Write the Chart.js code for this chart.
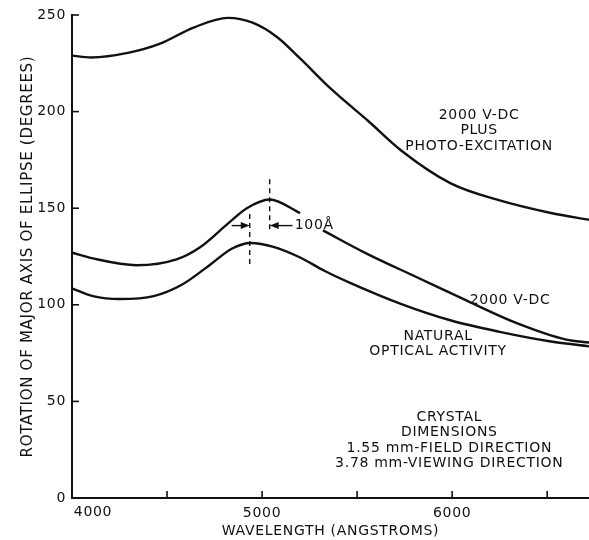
<!DOCTYPE html>
<html>
<head>
<meta charset="utf-8">
<script src="https://cdn.jsdelivr.net/npm/chart.js@4.4.1/dist/chart.umd.min.js"></script>
<style>
  html, body { margin: 0; padding: 0; background: #fff; }
  #wrap { width: 589px; height: 540px; }
</style>
</head>
<body>
<div id="wrap"><canvas id="c"></canvas></div>
<script>
// wavelength (angstroms) / rotation (degrees)
const photoWl  = [4000, 4100, 4300, 4460, 4640, 4820, 4950, 5080, 5200, 5360, 5560, 5730, 5990, 6250, 6520, 6720]
const photoDeg = [229, 228, 230.5, 235, 243.5, 248.5, 246, 238.5, 227.5, 212, 195, 180, 163, 154, 147.5, 144]

// gap (null) where the curve is broken for the "100Å" label
const dcWl  = [4000, 4110, 4340, 4550, 4670, 4820, 4920, 5040, 5200, 5260, 5320, 5550, 5820, 6080, 6340, 6600, 6720]
const dcDeg = [127, 124, 120.5, 123.5, 129.5, 142, 150, 154.5, 147.5, null, 138.5, 126.5, 114, 102, 90.5, 82, 80.5]

const natWl  = [4000, 4110, 4250, 4430, 4580, 4730, 4840, 4940, 5060, 5200, 5330, 5460, 5730, 5990, 6250, 6520, 6720]
const natDeg = [108.5, 104.5, 103, 104.5, 110.5, 121, 129, 132, 130, 124.5, 117.5, 111.5, 100.5, 92, 86, 81, 78.5]

const yTicks = [0, 50, 100, 150, 200, 250]
const xTickMarks = [4500, 5000, 5500, 6000, 6500]
const xTickLabels = [5000, 6000]

const ink = "#111"
const font = "'DejaVu Sans', sans-serif"
const toPoints = (xs, ys) => xs.map((x, i) => ({ x, y: ys[i] }))

const line = (label, xs, ys) => ({
  label,
  data: toPoints(xs, ys),
  borderColor: ink,
  borderWidth: 2.4,
  pointRadius: 0,
  cubicInterpolationMode: "monotone",
  spanGaps: false,
  fill: false
})

const drawArrow = (ctx, x0, x1, py) => {
  const dir = Math.sign(x1 - x0)
  ctx.beginPath(); ctx.moveTo(x0, py); ctx.lineTo(x1 - dir * 6, py); ctx.stroke()
  ctx.beginPath()
  ctx.moveTo(x1, py)
  ctx.lineTo(x1 - dir * 9, py - 3.5)
  ctx.lineTo(x1 - dir * 9, py + 3.5)
  ctx.closePath(); ctx.fill()
}

const annotate = {
  id: "annotate",
  beforeDraw(chart) { chart.ctx.letterSpacing = "0.7px" },
  afterDraw(chart) {
    const { ctx, chartArea: area, scales: { x, y } } = chart
    ctx.save()
    ctx.strokeStyle = ink
    ctx.fillStyle = ink

    // tick marks point into the plot
    ctx.lineWidth = 1.6
    yTicks.forEach(v => {
      const py = y.getPixelForValue(v)
      ctx.beginPath(); ctx.moveTo(area.left, py); ctx.lineTo(area.left + 7, py); ctx.stroke()
    })
    xTickMarks.forEach(v => {
      const px = x.getPixelForValue(v)
      ctx.beginPath(); ctx.moveTo(px, area.bottom); ctx.lineTo(px, area.bottom - 7); ctx.stroke()
    })

    // 4000 sits to the right of the corner in the original
    ctx.font = "14px " + font
    ctx.textAlign = "center"
    ctx.textBaseline = "top"
    ctx.fillText("4000", x.getPixelForValue(4000) + 21, area.bottom + 7)

    // dashed peak markers
    ctx.lineWidth = 1.4
    ctx.setLineDash([5, 4])
    ;[[5040, 165, 137], [4935, 147, 119]].forEach(([wl, top, bot]) => {
      const px = x.getPixelForValue(wl)
      ctx.beginPath(); ctx.moveTo(px, y.getPixelForValue(top)); ctx.lineTo(px, y.getPixelForValue(bot)); ctx.stroke()
    })
    ctx.setLineDash([])

    const ay = y.getPixelForValue(141)
    drawArrow(ctx, x.getPixelForValue(4840), x.getPixelForValue(4935), ay)
    drawArrow(ctx, x.getPixelForValue(5160), x.getPixelForValue(5040), ay)
    ctx.textAlign = "left"
    ctx.textBaseline = "middle"
    ctx.fillText("100Å", x.getPixelForValue(5172), ay)

    // curve labels
    ctx.textAlign = "center"
    const block = (wl, deg, lines) => {
      const px = x.getPixelForValue(wl)
      let py = y.getPixelForValue(deg)
      lines.forEach(t => { ctx.fillText(t, px, py); py += 15.5 })
    }
    block(6142, 198.2, ["2000 V-DC", "PLUS", "PHOTO-EXCITATION"])
    block(6305, 102.5, ["2000 V-DC"])
    block(5926, 83.9, ["NATURAL", "OPTICAL ACTIVITY"])
    block(5985, 41.9, ["CRYSTAL", "DIMENSIONS", "1.55 mm-FIELD DIRECTION", "3.78 mm-VIEWING DIRECTION"])
    ctx.restore()
  }
}

new Chart(document.getElementById("c"), {
  type: "line",
  data: {
    datasets: [
      line("2000 V-DC plus photo-excitation", photoWl, photoDeg),
      line("2000 V-DC", dcWl, dcDeg),
      line("Natural optical activity", natWl, natDeg)
    ]
  },
  options: {
    responsive: true,
    maintainAspectRatio: false,
    animation: false,
    layout: { padding: { top: 15, right: 0, bottom: 0, left: 0 } },
    plugins: { legend: { display: false }, tooltip: { enabled: false } },
    scales: {
      x: {
        type: "linear",
        min: 4000,
        max: 6720,
        afterFit(s) { s.height = 42 },
        afterBuildTicks(s) { s.ticks = xTickLabels.map(v => ({ value: v })) },
        grid: { display: false, drawTicks: false },
        border: { display: true, color: ink, width: 2 },
        ticks: {
          autoSkip: false,
          maxRotation: 0,
          padding: 7,
          color: ink,
          font: { family: font, size: 14 },
          callback: v => String(v)
        },
        title: {
          display: true,
          text: "WAVELENGTH (ANGSTROMS)",
          color: ink,
          font: { family: font, size: 14 },
          padding: { top: 0, bottom: 0 }
        }
      },
      y: {
        min: 0,
        max: 250,
        afterFit(s) { s.width = 72 },
        afterBuildTicks(s) { s.ticks = yTicks.map(v => ({ value: v })) },
        grid: { display: false, drawTicks: false },
        border: { display: true, color: ink, width: 2 },
        ticks: {
          padding: 6,
          color: ink,
          font: { family: font, size: 14 },
          callback: v => String(v)
        },
        title: {
          display: true,
          text: "ROTATION OF MAJOR AXIS OF ELLIPSE (DEGREES)",
          color: ink,
          font: { family: font, size: 15 },
          padding: { top: 19, bottom: 0 }
        }
      }
    }
  },
  plugins: [annotate]
})
</script>
</body>
</html>
